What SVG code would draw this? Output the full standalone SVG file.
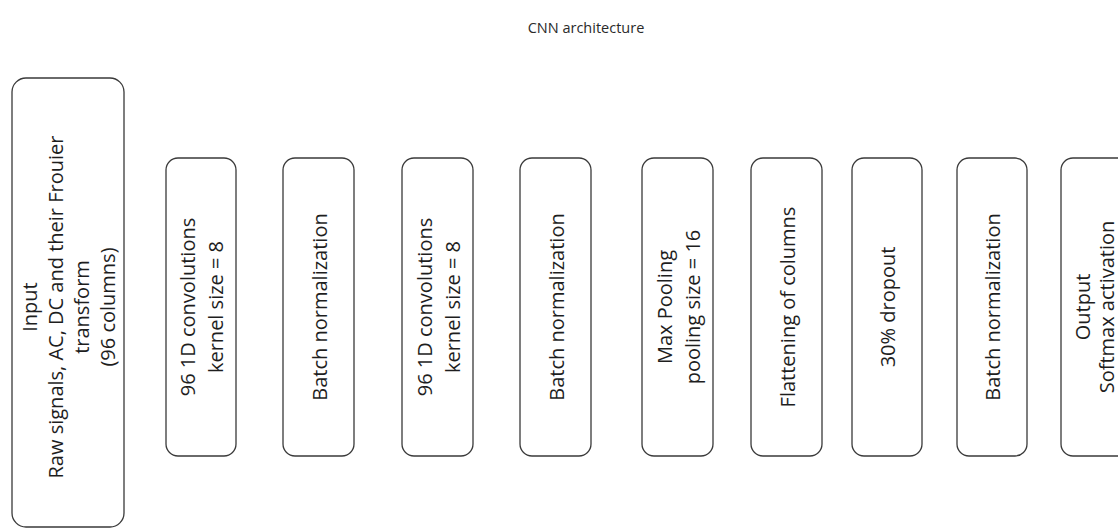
<svg xmlns="http://www.w3.org/2000/svg" width="1118" height="530" viewBox="0 0 1118 530">
<style>
.box{fill:#ffffff;stroke:#3a3a3a;stroke-width:1.3}
.t{font-family:"Open Sans","Liberation Sans",sans-serif;font-size:20px;fill:#1e1e1e;text-anchor:middle;dominant-baseline:central}
.title{font-family:"Open Sans","Liberation Sans",sans-serif;font-size:14.5px;fill:#2a2a2a;text-anchor:middle}
</style>
<rect x="0" y="0" width="1118" height="530" fill="#ffffff"/>
<text class="title" x="586" y="33">CNN architecture</text>
<g id="connectors"></g>
<g id="input">
<rect class="box" x="12" y="78" width="112" height="449" rx="14"/>
<text class="t" transform="translate(68,307) rotate(-90)"><tspan x="0" y="-39">Input</tspan><tspan x="0" y="-13">Raw signals, AC, DC and their Frouier</tspan><tspan x="0" y="13">transform</tspan><tspan x="0" y="39">(96 columns)</tspan></text>
</g>
<g id="conv1">
<rect class="box" x="166" y="158" width="70" height="298" rx="12"/>
<text class="t" transform="translate(201,307) rotate(-90)"><tspan x="0" y="-14">96 1D convolutions</tspan><tspan x="0" y="14">kernel size = 8</tspan></text>
</g>
<g id="bn1">
<rect class="box" x="283" y="158" width="71" height="298" rx="12"/>
<text class="t" transform="translate(318.5,307) rotate(-90)"><tspan x="0" y="0">Batch normalization</tspan></text>
</g>
<g id="conv2">
<rect class="box" x="402" y="158" width="71" height="298" rx="12"/>
<text class="t" transform="translate(437.5,307) rotate(-90)"><tspan x="0" y="-14">96 1D convolutions</tspan><tspan x="0" y="14">kernel size = 8</tspan></text>
</g>
<g id="bn2">
<rect class="box" x="520" y="158" width="71" height="298" rx="12"/>
<text class="t" transform="translate(555.5,307) rotate(-90)"><tspan x="0" y="0">Batch normalization</tspan></text>
</g>
<g id="maxpool">
<rect class="box" x="642" y="158" width="71" height="298" rx="12"/>
<text class="t" transform="translate(677.5,307) rotate(-90)"><tspan x="0" y="-14">Max Pooling</tspan><tspan x="0" y="14">pooling size = 16</tspan></text>
</g>
<g id="flatten">
<rect class="box" x="751" y="158" width="71" height="298" rx="12"/>
<text class="t" transform="translate(786.5,307) rotate(-90)"><tspan x="0" y="0">Flattening of columns</tspan></text>
</g>
<g id="dropout">
<rect class="box" x="852" y="158" width="70" height="298" rx="12"/>
<text class="t" transform="translate(887,307) rotate(-90)"><tspan x="0" y="0">30% dropout</tspan></text>
</g>
<g id="bn3">
<rect class="box" x="957" y="158" width="70" height="298" rx="12"/>
<text class="t" transform="translate(992,307) rotate(-90)"><tspan x="0" y="0">Batch normalization</tspan></text>
</g>
<g id="output">
<rect class="box" x="1061" y="158" width="71" height="298" rx="12"/>
<text class="t" transform="translate(1094,307) rotate(-90)"><tspan x="0" y="-12">Output</tspan><tspan x="0" y="12">Softmax activation</tspan></text>
</g>
</svg>
